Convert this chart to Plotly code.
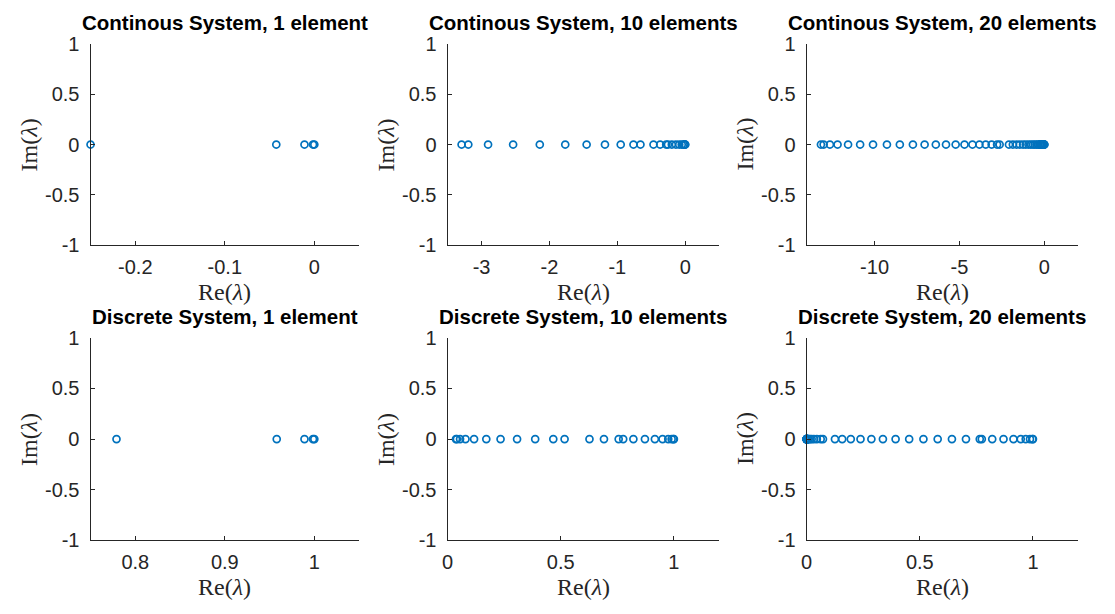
import plotly.graph_objects as go

# ---------------- data ----------------
cont_1 = [-0.25, -0.0425, -0.011, -0.0015, 0.0]
cont_10 = [-3.294, -3.195, -2.904, -2.535, -2.142, -1.767, -1.452, -1.182, -0.950,
           -0.762, -0.659, -0.467, -0.369, -0.280, -0.254, -0.197, -0.137, -0.088,
           -0.051, -0.025, -0.010, -0.002, 0.0]
cont_20 = [-13.16, -13.0, -12.63, -12.18, -11.56, -10.85, -10.09, -9.27, -8.51, -7.74,
           -7.05, -6.39, -5.79, -5.22, -4.70, -4.23, -3.82, -3.45, -3.10, -2.78, -2.63,
           -2.08, -1.85, -1.63, -1.44, -1.25, -1.09, -0.93, -0.79, -0.66, -0.55, -0.44,
           -0.35, -0.27, -0.256, -0.198, -0.139, -0.090, -0.056, -0.033, -0.013, -0.002, 0.0]
disc_1 = [0.779, 0.958, 0.989, 0.9985, 1.0]
disc_10 = [0.037, 0.041, 0.055, 0.079, 0.117, 0.171, 0.234, 0.307, 0.387, 0.467, 0.517,
           0.627, 0.691, 0.756, 0.776, 0.821, 0.872, 0.916, 0.950, 0.975, 0.990, 0.998, 1.0]
disc_20 = [0.0, 0.0, 0.0, 0.0, 0.0, 0.0, 0.0, 0.0001, 0.0002, 0.0004, 0.0009, 0.0017,
           0.0031, 0.0055, 0.0091, 0.015, 0.022, 0.032, 0.045, 0.062, 0.072,
           0.125, 0.157, 0.195, 0.238, 0.286, 0.337, 0.393, 0.453, 0.516, 0.579, 0.642,
           0.704, 0.765, 0.774, 0.820, 0.870, 0.914, 0.946, 0.968, 0.987, 0.998, 1.0]

titles = ["Continous System, 1 element", "Continous System, 10 elements",
          "Continous System, 20 elements", "Discrete System, 1 element",
          "Discrete System, 10 elements", "Discrete System, 20 elements"]
series = [cont_1, cont_10, cont_20, disc_1, disc_10, disc_20]
x_ranges = [[-0.25, 0.05], [-3.5, 0.5], [-14, 2], [0.75, 1.05], [0, 1.2], [0, 1.2]]
x_tickvals = [[-0.2, -0.1, 0], [-3, -2, -1, 0], [-10, -5, 0], [0.8, 0.9, 1], [0, 0.5, 1], [0, 0.5, 1]]
x_ticktext = [["-0.2", "-0.1", "0"], ["-3", "-2", "-1", "0"], ["-10", "-5", "0"],
              ["0.8", "0.9", "1"], ["0", "0.5", "1"], ["0", "0.5", "1"]]
y_tickvals = [-1, -0.5, 0, 0.5, 1]
y_ticktext = ["-1", "-0.5", "0", "0.5", "1"]

# ---------------- layout geometry ----------------
W, H = 1115, 614
col_px = [(85, 355), (444, 717), (805, 1078)]
row_px = [(34, 243), (339, 549)]

AX = "#262626"
BLUE = "#0072BD"
SANS = "Liberation Sans, Arial, Helvetica, sans-serif"
SERIF = "Liberation Serif, Times New Roman, serif"

fig = go.Figure()
layout = dict(width=W, height=H, margin=dict(l=0, r=0, t=0, b=0),
              paper_bgcolor="white", plot_bgcolor="white", showlegend=False)
annotations = []

for i in range(6):
    r, c = divmod(i, 3)
    n = i + 1
    xa = "xaxis" if n == 1 else f"xaxis{n}"
    ya = "yaxis" if n == 1 else f"yaxis{n}"
    xref = "x" if n == 1 else f"x{n}"
    yref = "y" if n == 1 else f"y{n}"
    x0, x1 = col_px[c]
    y0, y1 = row_px[r]
    vals = series[i]
    fig.add_trace(go.Scatter(
        x=vals, y=[0] * len(vals), mode="markers", xaxis=xref, yaxis=yref,
        cliponaxis=False,
        marker=dict(symbol="circle-open", size=7, color=BLUE, line=dict(width=1.7, color=BLUE)),
    ))
    layout[xa] = dict(
        domain=[x0 / W, x1 / W], anchor=yref, range=x_ranges[i],
        tickvals=x_tickvals[i], ticktext=x_ticktext[i],
        ticks="inside", ticklen=4, tickwidth=1, tickcolor=AX,
        showline=True, linecolor=AX, linewidth=1.2, showgrid=False, zeroline=False,
        tickfont=dict(family=SANS, size=20, color=AX), ticklabelstandoff=4,
    )
    layout[ya] = dict(
        domain=[1 - y1 / H, 1 - y0 / H], anchor=xref, range=[-1, 1],
        tickvals=y_tickvals, ticktext=y_ticktext,
        ticks="inside", ticklen=4, tickwidth=1, tickcolor=AX,
        showline=True, linecolor=AX, linewidth=1.2, showgrid=False, zeroline=False,
        tickfont=dict(family=SANS, size=20, color=AX), ticklabelstandoff=6,
    )
    # subplot title
    annotations.append(dict(
        text=f"<b>{titles[i]}</b>", x=(x0 + x1) / 2 / W, y=1 - (y0 - 22) / H,
        xref="paper", yref="paper", xanchor="center", yanchor="middle", showarrow=False,
        font=dict(family=SANS, size=20.5, color="black"),
    ))
    # x label
    annotations.append(dict(
        text="Re(<i>λ</i>)", x=(x0 + x1) / 2 / W, y=1 - (y1 + 48) / H,
        xref="paper", yref="paper", xanchor="center", yanchor="middle", showarrow=False,
        font=dict(family=SERIF, size=24, color=AX),
    ))
    # y label
    annotations.append(dict(
        text="Im(<i>λ</i>)", x=(x0 - 62) / W, y=1 - (y0 + y1) / 2 / H, textangle=-90,
        xref="paper", yref="paper", xanchor="center", yanchor="middle", showarrow=False,
        font=dict(family=SERIF, size=24, color=AX),
    ))

layout["annotations"] = annotations
fig.update_layout(**layout)
fig.write_html("out.html")
